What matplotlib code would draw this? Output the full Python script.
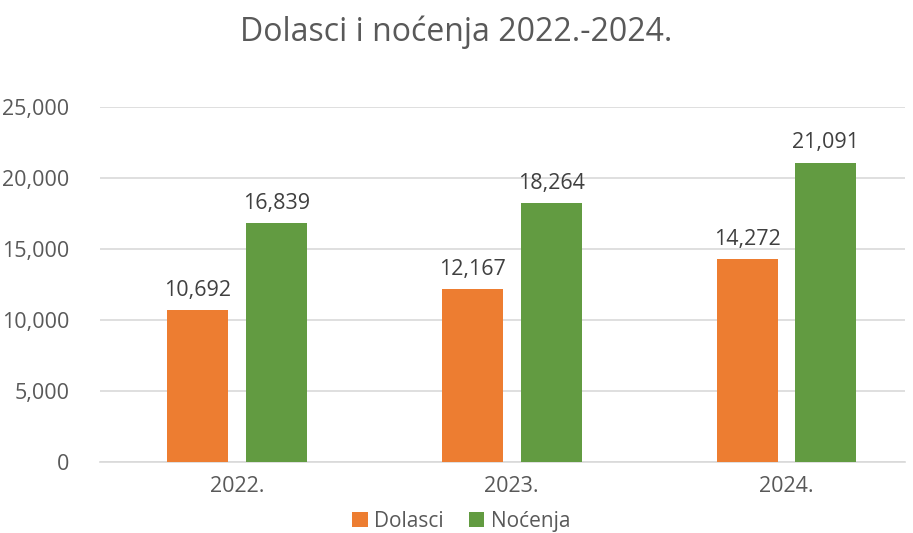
import matplotlib.pyplot as plt
import numpy as np

years = ['2022.', '2023.', '2024.']
dolasci = [10692, 12167, 14272]
nocenja = [16839, 18264, 21091]
yticks = [0, 5000, 10000, 15000, 20000, 25000]

plt.rcParams['font.family'] = ['Open Sans', 'DejaVu Sans']
txt = '#595959'

fig = plt.figure(figsize=(9.13, 5.33), dpi=100)
ax = fig.add_axes([0.1095, 0.133, 0.8815, 0.666])

x = np.arange(len(years))
w = 0.222
off = 0.143
b1 = ax.bar(x - off, dolasci, w, color='#ED7D31', label='Dolasci', zorder=3)
b2 = ax.bar(x + off, nocenja, w, color='#629B41', label='Noćenja', zorder=3)

for bars in (b1, b2):
    for r in bars:
        ax.text(r.get_x() + r.get_width() / 2, r.get_height() + 650,
                '{:,}'.format(int(r.get_height())), ha='center', va='bottom',
                fontsize=15.5, color='#404040')

ax.set_ylim(0, 25000)
ax.set_xlim(-0.498, 2.43)
ax.set_yticks(yticks)
ax.set_yticklabels(['{:,}'.format(v) for v in yticks])
ax.set_xticks(x)
ax.set_xticklabels(years)
ax.tick_params(axis='both', length=0, labelsize=15.5, labelcolor=txt)
ax.tick_params(axis='y', pad=22)
ax.tick_params(axis='x', pad=10)
ax.grid(axis='y', color='#D9D9D9', linewidth=1.2, zorder=0)
for s in ['top', 'right', 'left']:
    ax.spines[s].set_visible(False)
ax.spines['bottom'].set_color('#D9D9D9')
ax.spines['bottom'].set_linewidth(1.2)

fig.text(0.5, 0.94, 'Dolasci i noćenja 2022.-2024.', ha='center', va='center',
         fontsize=23, color=txt)

fig.legend(handles=[b1, b2], loc='center', bbox_to_anchor=(0.505, 0.022), ncol=2,
           frameon=False, fontsize=15, labelcolor=txt, handlelength=0.75,
           handleheight=0.75, handletextpad=0.3, columnspacing=1.2)

fig.savefig('out.png', dpi=100)
